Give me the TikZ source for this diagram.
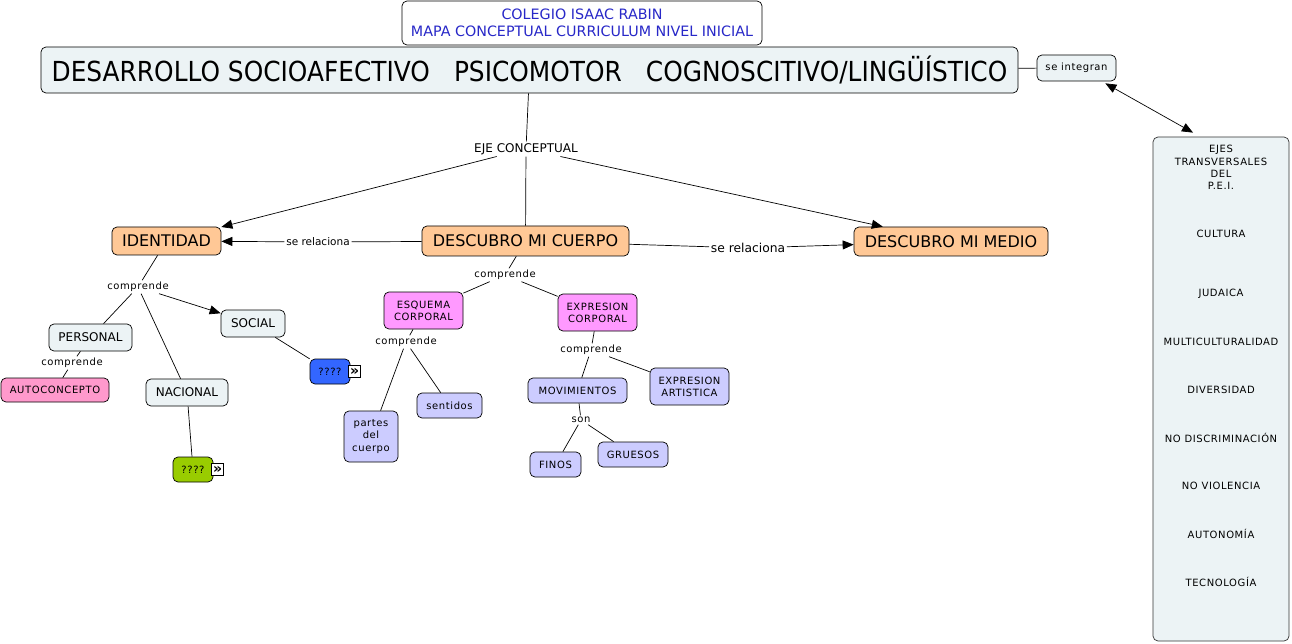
\documentclass[tikz,border=0pt]{standalone}
\usepackage{fontspec}
\setmainfont{DejaVu Sans}
\newfontfamily\cmapfont[LetterSpace=6]{DejaVu Sans}
\newfontfamily\narrowfont[FakeStretch=0.9]{DejaVu Sans}
\usetikzlibrary{
    arrows.meta,
    positioning
}
\definecolor{cmgray}{RGB}{236,243,245}
\definecolor{cmorange}{RGB}{255,200,150}
\definecolor{cmmagenta}{RGB}{255,153,255}
\definecolor{cmlilac}{RGB}{204,204,255}
\definecolor{cmpink}{RGB}{255,153,204}
\definecolor{cmblue}{RGB}{51,102,255}
\definecolor{cmgreen}{RGB}{153,204,0}
\definecolor{cmtitle}{RGB}{40,40,200}
\tikzset{
  every path/.style={
    black,
    line width=0.7pt
  },
  sz/.style 2 args={
    minimum width=#1pt,
    minimum height=#2pt
  },
  concept/.style={
    draw,
    rounded corners=5pt,
    align=center,
    inner sep=0pt,
    fill=cmgray,
    font=\cmapfont\fontsize{10}{12}\selectfont
  },
  bigconcept/.style={
    concept,
    fill=cmorange,
    font=\fontsize{16}{19}\selectfont
  },
  linkword/.style={
    fill=white,
    inner sep=1.5pt,
    font=\cmapfont\fontsize{10}{12}\selectfont
  },
  expander/.style={
    draw,
    fill=white,
    inner sep=0pt,
    minimum size=12pt,
    line width=0.5pt,
    font=\bfseries\fontsize{14}{14}\selectfont
  },
  ejesitem/.style={
    inner sep=0pt,
    font=\cmapfont\fontsize{10}{11}\selectfont
  },
  arr/.style={
    -{Triangle[length=11pt,width=9pt]}
  },
  twoarr/.style={
    {Triangle[length=11pt,width=9pt]}-{Triangle[length=11pt,width=9pt]}
  }
}

\begin{document}
\begin{tikzpicture}[x=1pt,y=-1pt]
\useasboundingbox (0,0) rectangle (1292,644);

% cabecera
\node[concept, sz={360}{44}, fill=white, text=cmtitle,
      font=\fontsize{14.3}{17}\selectfont] (title) at (582,23)
      {COLEGIO ISAAC RABIN\\MAPA CONCEPTUAL CURRICULUM NIVEL INICIAL};
\node[concept, sz={977}{46}, font=\narrowfont\fontsize{27.6}{30}\selectfont] (main) at (529.5,70)
      {DESARROLLO SOCIOAFECTIVO\hspace{24pt}PSICOMOTOR\hspace{24pt}COGNOSCITIVO/LINGÜÍSTICO};
\node[concept, sz={79}{26}] (integ) at (1076.5,68) {se integran};
\node[concept, sz={136}{504}, draw=black!80] (ejes) at (1221,389) {};
\foreach \txt/\yy [count=\i] in {EJES/150, TRANSVERSALES/162, DEL/174, P.E.I./186,
    CULTURA/234, JUDAICA/294, MULTICULTURALIDAD/342, DIVERSIDAD/390,
    NO DISCRIMINACIÓN/438, NO VIOLENCIA/486, AUTONOMÍA/534, TECNOLOGÍA/582} {
  \node[ejesitem] (eje\i) at (1221,\yy) {\txt};
}

% ejes conceptuales
\node[linkword, font=\fontsize{12}{14}\selectfont] (ejec) at (526,149) {EJE CONCEPTUAL};
\node[bigconcept, sz={109}{28}] (ident) at (166.5,241) {IDENTIDAD};
\node[bigconcept, sz={207}{30}] (cuerpo) at (525.5,241) {DESCUBRO MI CUERPO};
\node[bigconcept, sz={194}{29}] (medio) at (951,241.5) {DESCUBRO MI MEDIO};
\node[linkword, font=\fontsize{10.5}{12}\selectfont] (rel1) at (318,242) {se relaciona};
\node[linkword, font=\fontsize{12.3}{14}\selectfont] (rel2) at (748,248) {se relaciona};

% identidad
\node[linkword] (comp1) at (138,287) {comprende};
\node[concept, sz={83}{27}, font=\fontsize{12}{14}\selectfont] (personal) at (90.5,337.5) {PERSONAL};
\node[linkword] (comp2) at (72,363) {comprende};
\node[concept, sz={108}{24}, fill=cmpink] (autoc) at (55,390) {AUTOCONCEPTO};
\node[concept, sz={64}{27}, font=\fontsize{12}{14}\selectfont] (social) at (253,323.5) {SOCIAL};
\node[concept, sz={40}{25}, fill=cmblue] (quest1) at (330,371.5) {????};
\node[expander, right=-2pt of quest1] (exp1) {»};
\node[concept, sz={82}{27}, font=\fontsize{12}{14}\selectfont] (nacional) at (187,392.5) {NACIONAL};
\node[concept, sz={40}{25}, fill=cmgreen] (quest2) at (193,469.5) {????};
\node[expander, right=-2pt of quest2] (exp2) {»};

% cuerpo
\node[linkword] (comp3) at (505,275) {comprende};
\node[concept, sz={79}{37}, fill=cmmagenta] (esquema) at (423.5,310.5) {ESQUEMA\\CORPORAL};
\node[concept, sz={79}{37}, fill=cmmagenta] (expres) at (597.5,312.5) {EXPRESION\\CORPORAL};
\node[linkword] (comp4) at (406,342) {comprende};
\node[concept, sz={54}{51}, fill=cmlilac, font=\cmapfont\fontsize{10}{12.5}\selectfont] (partes) at (371,436.5) {partes\\del\\cuerpo};
\node[concept, sz={65}{25}, fill=cmlilac] (sentidos) at (449.5,405.5) {sentidos};
\node[linkword] (comp5) at (591,350) {comprende};
\node[concept, sz={99}{25}, fill=cmlilac] (movim) at (577.5,390.5) {MOVIMIENTOS};
\node[concept, sz={79}{37}, fill=cmlilac] (artist) at (689.5,386.5) {EXPRESION\\ARTISTICA};
\node[linkword] (son) at (581,420) {son};
\node[concept, sz={51}{25}, fill=cmlilac] (finos) at (555.5,464.5) {FINOS};
\node[concept, sz={70}{25}, fill=cmlilac] (gruesos) at (633,454.5) {GRUESOS};

% conectores
\draw (main) -- (integ);
\draw[twoarr] ([xshift=-11pt,yshift=-2pt]integ.south east) -- ([xshift=-28pt,yshift=4pt]ejes.north);
\draw (main) -- (ejec);
\draw (ejec) -- (cuerpo);
\draw[arr] (ejec) -- (ident);
\draw[arr] (ejec) -- (medio);
\draw (cuerpo) -- (rel1);
\draw[arr] (rel1) -- (ident);
\draw (cuerpo) -- (rel2);
\draw[arr] (rel2) -- (medio);
\draw (ident) -- (comp1);
\draw (comp1) -- (personal);
\draw (comp1) -- (nacional);
\draw[arr] (comp1) -- (social);
\draw (personal) -- (comp2);
\draw (comp2) -- (autoc);
\draw (social) -- (quest1);
\draw (nacional) -- (quest2);
\draw (cuerpo) -- (comp3);
\draw (comp3) -- (esquema);
\draw (comp3) -- (expres);
\draw (esquema) -- (comp4);
\draw (comp4) -- (partes);
\draw (comp4) -- (sentidos);
\draw (expres) -- (comp5);
\draw (comp5) -- (movim);
\draw (comp5) -- (artist);
\draw (movim) -- (son);
\draw (son) -- (finos);
\draw (son) -- (gruesos);
\end{tikzpicture}
\end{document}
